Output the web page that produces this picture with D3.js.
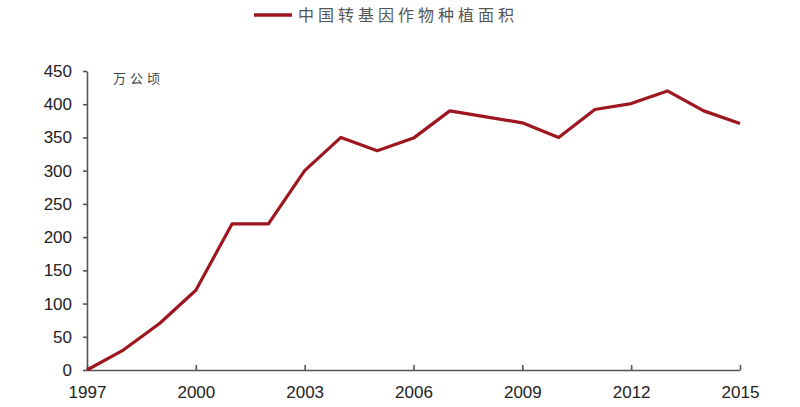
<!DOCTYPE html>
<html>
<head>
<meta charset="utf-8">
<script src="https://cdn.jsdelivr.net/npm/d3@7"></script>
<style>
  body { margin: 0; background: #fff; }
  svg text { font-family: "Liberation Sans", Arial, sans-serif; }
</style>
</head>
<body>
<svg id="chart" width="800" height="407"></svg>
<script>
// 中国转基因作物种植面积 (万公顷)
const years = [1997, 1998, 1999, 2000, 2001, 2002, 2003, 2004, 2005, 2006,
               2007, 2008, 2009, 2010, 2011, 2012, 2013, 2014, 2015];
const area = [0, 30, 70, 120, 220, 220, 300, 350, 330, 349,
              390, 381, 372, 350, 392, 401, 420, 390, 371];
const xTicks = [1997, 2000, 2003, 2006, 2009, 2012, 2015];
const yTicks = [0, 50, 100, 150, 200, 250, 300, 350, 400, 450];
const seriesName = '中国转基因作物种植面积';
const unitLabel = '万公顷';

const svg = d3.select('#chart');
const lineColor = '#9e1620';
const axisColor = '#555';

// scales
const x = d3.scaleLinear().domain([1997, 2015]).range([87, 740]);
const y = d3.scaleLinear().domain([0, 450]).range([370, 71]);

// x axis (ticks pointing up)
const xAxis = svg.append('g')
    .attr('transform', `translate(0, ${y(0)})`)
    .call(d3.axisBottom(x).tickValues(xTicks).tickFormat(d => `${d}`)
        .tickSizeInner(-5).tickSizeOuter(0).tickPadding(16));
xAxis.select('.domain').attr('stroke', axisColor).attr('stroke-width', 1.6);
xAxis.selectAll('.tick line').attr('stroke', axisColor).attr('stroke-width', 1.6);
xAxis.selectAll('text').attr('font-size', 17).attr('fill', '#222');

// y axis
const yAxis = svg.append('g')
    .attr('transform', `translate(${x(1997)}, 0)`)
    .call(d3.axisLeft(y).tickValues(yTicks).tickSizeInner(4).tickSizeOuter(0).tickPadding(11));
yAxis.select('.domain').attr('stroke', axisColor).attr('stroke-width', 1.6);
yAxis.selectAll('.tick line').attr('stroke', axisColor).attr('stroke-width', 1.6);
yAxis.selectAll('text').attr('font-size', 17).attr('fill', '#222');

// unit label
svg.append('text')
   .attr('x', 113).attr('y', 83)
   .attr('font-size', 13)
   .attr('letter-spacing', 4)
   .attr('fill', '#444')
   .style('font-family', '"Noto Sans CJK SC", sans-serif')
   .text(unitLabel);

// line
const data = years.map((yr, i) => ({ year: yr, value: area[i] }));
svg.append('path')
   .datum(data)
   .attr('fill', 'none')
   .attr('stroke', lineColor)
   .attr('stroke-width', 3.2)
   .attr('stroke-linejoin', 'round')
   .attr('d', d3.line().x(d => x(d.year)).y(d => y(d.value)));

// legend
const legend = svg.append('g').attr('transform', 'translate(254, 15)');
legend.append('line')
      .attr('x1', 0).attr('x2', 38).attr('y1', 0).attr('y2', 0)
      .attr('stroke', lineColor).attr('stroke-width', 3.5);
legend.append('text')
      .attr('x', 44).attr('y', 6)
      .attr('font-size', 16)
      .attr('fill', '#555')
      .attr('letter-spacing', 4)
      .style('font-family', '"Noto Sans CJK SC", sans-serif')
      .text(seriesName);
</script>
</body>
</html>
